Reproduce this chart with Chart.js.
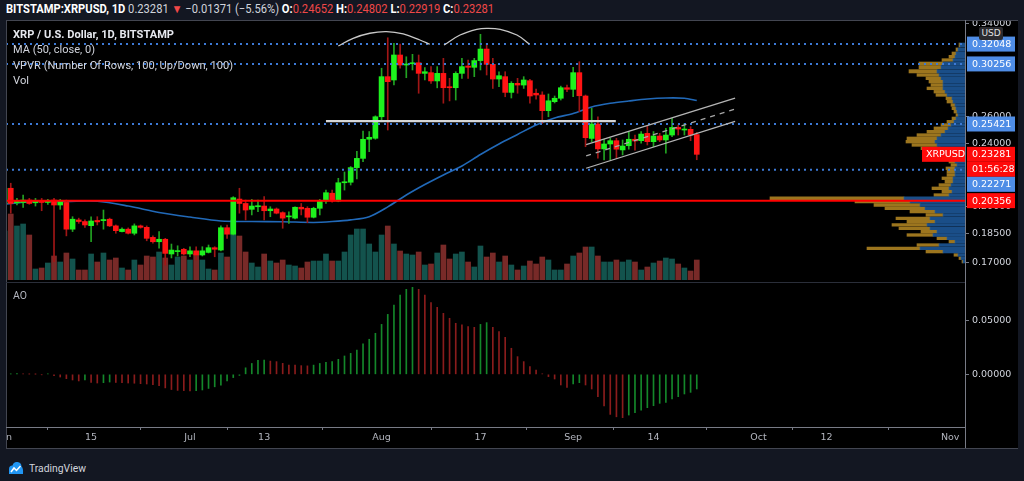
<!DOCTYPE html>
<html>
<head>
<meta charset="utf-8">
<title>XRPUSD 1D</title>
<script src="https://cdn.jsdelivr.net/npm/chart.js@4.4.1/dist/chart.umd.min.js"></script>
<style>
  html, body { margin: 0; padding: 0; width: 1024px; height: 481px; overflow: hidden; background: #131722; font-family: Roboto, "Open Sans", sans-serif; }
  .abs { position: absolute; }
  #panel { left: 6px; top: 20px; width: 1012px; height: 428px; background: #000; }
  #pwrap { left: 6px; top: 20px; width: 1012px; height: 262px; overflow: hidden; }
  #pwrap canvas { position: absolute; left: -20px; top: -20px; }
  #awrap { left: 6px; top: 282px; width: 1012px; height: 166px; overflow: hidden; }
  #awrap canvas { position: absolute; left: -20px; top: -19px; }
  .ln { position: absolute; z-index: 5; }
  .txt { position: absolute; white-space: nowrap; line-height: 1; transform-origin: 0 50%; z-index: 6; color: #d1d4dc; }
  #hdr { left: 6px; top: 3px; font-size: 12px; color: #d1d4dc; }
  #hdr b { color: #fff; font-weight: 700; }
  #hdr .r { color: #f04848; }
  .leg { left: 13px; font-size: 10.5px; }
  #usd { left: 979px; top: 27px; width: 24px; height: 13px; background: #2a2a2e; border-radius: 2px; color: #e0e0e0; font: 9px "DejaVu Sans", sans-serif; line-height: 13px; text-align: center; z-index: 7; }
  #logo { left: 8px; top: 461px; z-index: 6; }
</style>
</head>
<body>
<div id="panel" class="abs"></div>
<div id="pwrap" class="abs">
  <canvas id="vp" width="1032" height="300"></canvas>
  <canvas id="price" width="1032" height="300"></canvas>
</div>
<div id="awrap" class="abs">
  <canvas id="ao" width="1032" height="185"></canvas>
</div>

<div class="ln" style="left:6px;top:20px;width:1012px;height:1px;background:#434651"></div>
<div class="ln" style="left:6px;top:20px;width:1px;height:428px;background:#434651"></div>
<div class="ln" style="left:965px;top:20px;width:1px;height:428px;background:#787b86"></div>
<div class="ln" style="left:6px;top:282px;width:959px;height:1px;background:#2a2e39"></div>
<div class="ln" style="left:6px;top:427px;width:959px;height:1px;background:#787b86"></div>
<div class="ln" style="left:6px;top:448px;width:1012px;height:1px;background:#434651"></div>

<div id="hdr" class="txt"><b>BITSTAMP:XRPUSD, 1D</b> 0.23281 <span class="r">▼</span> −0.01371 (−5.56%) <b>O:</b><span class="r">0.24652</span> <b>H:</b><span class="r">0.24802</span> <b>L:</b><span class="r">0.22919</span> <b>C:</b><span class="r">0.23281</span></div>
<div id="leg1" class="txt leg" style="top:29.5px;font-weight:700;color:#e6e8ee">XRP / U.S. Dollar, 1D, BITSTAMP</div>
<div id="leg2" class="txt leg" style="top:45px">MA (50, close, 0)</div>
<div id="leg3" class="txt leg" style="top:60.5px">VPVR (Number Of Rows, 100, Up/Down, 100)</div>
<div id="leg4" class="txt leg" style="top:76px">Vol</div>
<div id="aolbl" class="txt leg" style="top:290.5px;color:#b2b5be">AO</div>
<div id="usd" class="abs">USD</div>
<svg id="logo" class="abs" width="16" height="14" viewBox="0 0 16 14">
  <path d="M1 13 L1 8 Q1 4.5 4.5 4.5 Q5.5 0.5 9.5 1 Q13.5 1.5 13.5 5.5 Q15.5 7 15 13 Z" fill="#2196f3"/>
  <polyline points="3,11 6,7 8.5,9.5 12.5,5" stroke="#fff" stroke-width="1.5" fill="none"/>
</svg>
<div id="tvtext" class="txt" style="left:29px;top:462.5px;font-size:11.5px;color:#d1d4dc">TradingView</div>

<script>
// ---- daily candles, BITSTAMP XRPUSD, day index 0 = 2020-06-01 ----
var startDate = "2020-06-01";

var opens = [
  0.2019, 0.2110, 0.2023, 0.2025, 0.2039, 0.2023, 0.2033, 0.2025, 0.2039, 0.2010,
  0.2025, 0.1874, 0.1925, 0.1916, 0.1893, 0.1922, 0.1921, 0.1929, 0.1892, 0.1861,
  0.1874, 0.1852, 0.1892, 0.1884, 0.1830, 0.1807, 0.1820, 0.1744, 0.1756, 0.1768,
  0.1744, 0.1760, 0.1739, 0.1752, 0.1776, 0.1764, 0.1882, 0.1847, 0.2045, 0.2019,
  0.1985, 0.2000, 0.2004, 0.1977, 0.1987, 0.1966, 0.1942, 0.1935, 0.1997, 0.1991,
  0.1940, 0.1991, 0.2033, 0.2080, 0.2033, 0.2144, 0.2147, 0.2240, 0.2301, 0.2432,
  0.2439, 0.2596, 0.2916, 0.2888, 0.3105, 0.3016, 0.3027, 0.3036, 0.2944, 0.2950,
  0.2880, 0.2944, 0.2832, 0.2824, 0.2944, 0.3007, 0.2996, 0.3055, 0.3159, 0.3022,
  0.2896, 0.2916, 0.2786, 0.2860, 0.2846, 0.2882, 0.2779, 0.2765, 0.2642, 0.2712,
  0.2739, 0.2824, 0.2811, 0.2950, 0.2757, 0.2438, 0.2542, 0.2365, 0.2399, 0.2422,
  0.2358, 0.2387, 0.2432, 0.2422, 0.2474, 0.2415, 0.2455, 0.2427, 0.2462, 0.2517,
  0.2498, 0.2503, 0.24652
];
var highs = [
  0.2124, 0.2141, 0.2049, 0.2069, 0.2049, 0.2049, 0.2049, 0.2043, 0.2049, 0.2043,
  0.2039, 0.1943, 0.1935, 0.1925, 0.1943, 0.1943, 0.1981, 0.1935, 0.1897, 0.1881,
  0.1881, 0.1903, 0.1897, 0.1892, 0.1838, 0.1861, 0.1825, 0.1795, 0.1786, 0.1773,
  0.1781, 0.1781, 0.1781, 0.1790, 0.1781, 0.1892, 0.1897, 0.2059, 0.2110, 0.2039,
  0.2043, 0.2039, 0.2059, 0.2000, 0.1993, 0.1971, 0.1971, 0.2000, 0.2019, 0.2000,
  0.1997, 0.2043, 0.2099, 0.2099, 0.2172, 0.2212, 0.2247, 0.2348, 0.2491, 0.2487,
  0.2603, 0.2988, 0.3264, 0.3212, 0.3205, 0.3089, 0.3111, 0.3105, 0.2993, 0.3002,
  0.3002, 0.3075, 0.2902, 0.2958, 0.3075, 0.3060, 0.3075, 0.3297, 0.3212, 0.3075,
  0.2958, 0.2958, 0.2874, 0.2902, 0.2916, 0.2893, 0.2812, 0.2791, 0.2773, 0.2757,
  0.2837, 0.2846, 0.2995, 0.3045, 0.2765, 0.2660, 0.2596, 0.2432, 0.2439, 0.2439,
  0.2427, 0.2487, 0.2462, 0.2487, 0.2527, 0.2487, 0.2474, 0.2510, 0.2584, 0.2535,
  0.2547, 0.2522, 0.24802
];
var lows = [
  0.2010, 0.1963, 0.2010, 0.1996, 0.2014, 0.2004, 0.1977, 0.2014, 0.1706, 0.1985,
  0.1838, 0.1861, 0.1906, 0.1884, 0.1807, 0.1897, 0.1874, 0.1888, 0.1852, 0.1859,
  0.1848, 0.1843, 0.1879, 0.1812, 0.1800, 0.1773, 0.1689, 0.1724, 0.1734, 0.1739,
  0.1730, 0.1714, 0.1734, 0.1749, 0.1730, 0.1759, 0.1825, 0.1843, 0.1963, 0.1925,
  0.1953, 0.1971, 0.1925, 0.1943, 0.1959, 0.1879, 0.1906, 0.1931, 0.1953, 0.1910,
  0.1936, 0.1953, 0.2019, 0.2027, 0.2029, 0.2099, 0.2130, 0.2168, 0.2279, 0.2346,
  0.2432, 0.2559, 0.2498, 0.2846, 0.2988, 0.2907, 0.2973, 0.2779, 0.2888, 0.2860,
  0.2823, 0.2700, 0.2718, 0.2725, 0.2902, 0.2902, 0.2916, 0.2973, 0.2930, 0.2818,
  0.2832, 0.2751, 0.2741, 0.2779, 0.2818, 0.2700, 0.2731, 0.2547, 0.2596, 0.2702,
  0.2725, 0.2791, 0.2751, 0.2634, 0.2380, 0.2415, 0.2302, 0.2290, 0.2290, 0.2302,
  0.2324, 0.2363, 0.2356, 0.2404, 0.2392, 0.2380, 0.2415, 0.2336, 0.2450, 0.2462,
  0.2462, 0.2422, 0.22919
];
var closes = [
  0.2110, 0.2019, 0.2035, 0.2039, 0.2019, 0.2035, 0.2025, 0.2035, 0.2010, 0.2029,
  0.1874, 0.1929, 0.1916, 0.1897, 0.1919, 0.1914, 0.1927, 0.1892, 0.1866, 0.1874,
  0.1852, 0.1892, 0.1884, 0.1825, 0.1807, 0.1820, 0.1747, 0.1764, 0.1761, 0.1744,
  0.1760, 0.1739, 0.1760, 0.1776, 0.1768, 0.1882, 0.1847, 0.2053, 0.2019, 0.1981,
  0.2004, 0.2006, 0.1977, 0.1987, 0.1963, 0.1935, 0.1946, 0.1997, 0.1987, 0.1940,
  0.1991, 0.2033, 0.2083, 0.2033, 0.2144, 0.2150, 0.2240, 0.2301, 0.2432, 0.2446,
  0.2596, 0.2916, 0.2874, 0.3105, 0.3016, 0.3025, 0.3036, 0.2944, 0.2958, 0.2880,
  0.2944, 0.2824, 0.2824, 0.2944, 0.3002, 0.2996, 0.3055, 0.3159, 0.3022, 0.2896,
  0.2924, 0.2786, 0.2860, 0.2846, 0.2888, 0.2757, 0.2765, 0.2642, 0.2719, 0.2739,
  0.2824, 0.2811, 0.2950, 0.2759, 0.2443, 0.2542, 0.2365, 0.2399, 0.2422, 0.2363,
  0.2385, 0.2432, 0.2420, 0.2469, 0.2415, 0.2455, 0.2427, 0.2462, 0.2517, 0.2505,
  0.2505, 0.2462, 0.23281
];
// volume, millions of XRP
var volumes = [
  24.5, 33, 27, 28, 22.5, 5.5, 6, 8.5, 12, 9,
  13.5, 10.5, 5, 5, 13, 9, 13.5, 10, 11, 6,
  5, 10, 7.5, 12, 11.5, 14, 11, 7.5, 11.5, 12,
  10, 13, 10, 5.5, 5, 13.5, 11.5, 30, 22, 14,
  8.5, 6.5, 13, 9.5, 8.5, 10, 7.5, 7, 6, 9,
  9.5, 9.5, 13, 9.5, 9.5, 14, 22.5, 25.5, 25.5, 18,
  14, 22.5, 27, 18, 14.5, 13, 12.5, 14, 7.5, 8,
  13.5, 17.5, 10.5, 13, 14, 9, 6.5, 17, 11.5, 13.5,
  9, 12, 7.5, 5, 7, 9.5, 8, 11.5, 10, 5,
  5, 8, 12, 13.5, 16.5, 16.5, 12, 9, 9, 10,
  9, 10, 9, 5, 6.5, 8.5, 9.5, 11, 10.5, 8,
  6, 4.5, 10
];
// Awesome Oscillator
var aoValues = [
  0.0002, 0.0003, 0.0006, 0.0003, 0.0002, 0.0001, -0.0003, 0.0003, -0.0012, -0.0025,
  -0.0040, -0.0052, -0.0061, -0.0052, -0.0074, -0.0080, -0.0077, -0.0071, -0.0075, -0.0077,
  -0.0080, -0.0082, -0.0086, -0.0089, -0.0095, -0.0105, -0.0125, -0.0140, -0.0148, -0.0150,
  -0.0152, -0.0150, -0.0144, -0.0130, -0.0115, -0.0100, -0.0060, -0.0030, -0.0010, 0.0060,
  0.0100, 0.0130, 0.0132, 0.0122, 0.0117, 0.0101, 0.0086, 0.0085, 0.0080, 0.0078,
  0.0085, 0.0100, 0.0110, 0.0117, 0.0138, 0.0169, 0.0193, 0.0224, 0.0280, 0.0323,
  0.0378, 0.0460, 0.0552, 0.0638, 0.0730, 0.0783, 0.0801, 0.0783, 0.0730, 0.0660,
  0.0617, 0.0562, 0.0516, 0.0470, 0.0455, 0.0439, 0.0433, 0.0460, 0.0476, 0.0433,
  0.0393, 0.0341, 0.0240, 0.0163, 0.0117, 0.0071, 0.0040, 0.0004, -0.0021, -0.0043,
  -0.0098, -0.0120, -0.0089, -0.0077, -0.0098, -0.0135, -0.0206, -0.0292, -0.0369, -0.0391,
  -0.0399, -0.0375, -0.0353, -0.0329, -0.0307, -0.0289, -0.0267, -0.0258, -0.0227, -0.0206,
  -0.0181, -0.0166, -0.0135
];
// MA(50, close)
var maDays = [0, 5, 10, 15, 20, 25, 30, 35, 40, 45, 50, 53, 56, 59, 62, 65, 68, 71, 74, 77, 80, 83, 86, 89, 92, 95, 98, 101, 104, 107, 110, 112];
var maValues = [0.2015, 0.2031, 0.2031, 0.2032, 0.2004, 0.1967, 0.1941, 0.1919, 0.1916, 0.1915, 0.1911, 0.1916, 0.1925, 0.1943, 0.1999, 0.2069, 0.2133, 0.2193, 0.2251, 0.2327, 0.2399, 0.2466, 0.2535, 0.2587, 0.2621, 0.2671, 0.2699, 0.2717, 0.2733, 0.2741, 0.2739, 0.2721];

// Volume profile rows (VPVR): price, up volume, down volume
var vpPrices = [0.3196, 0.3150, 0.3120, 0.3090, 0.3060, 0.3031, 0.3001, 0.2958, 0.2930, 0.2902, 0.2874, 0.2846, 0.2819, 0.2791, 0.2765, 0.2739, 0.2712, 0.2686, 0.2661, 0.2634, 0.2609, 0.2584, 0.2559, 0.2535, 0.2511, 0.2486, 0.2462, 0.2439, 0.2415, 0.2392, 0.2369, 0.2346, 0.2324, 0.2301, 0.2279, 0.2257, 0.2236, 0.2214, 0.2193, 0.2172, 0.2151, 0.2130, 0.2110, 0.2089, 0.2069, 0.2050, 0.2030, 0.2010, 0.1991, 0.1972, 0.1953, 0.1934, 0.1915, 0.1897, 0.1879, 0.1860, 0.1843, 0.1825, 0.1807, 0.1790, 0.1773, 0.1756, 0.1739, 0.1723, 0.1706];
var vpUp = [2.5, 3.5, 4.5, 5, 6, 11, 12, 14, 13, 12, 11, 11, 11, 10, 9, 6.5, 6, 5, 4.5, 4, 3.5, 4.5, 5.5, 7, 8.5, 10, 12, 14, 15, 14, 12.5, 9, 7.5, 6, 5, 4, 5, 5, 5, 6, 6, 7, 8, 6.5, 8, 30.5, 27.5, 22.5, 20, 15, 11, 17.5, 15, 19, 17.5, 14, 16, 9, 5, 13, 22.5, 11, 3.5, 2, 1];
var vpDown = [0.5, 1, 2, 3, 5.5, 12, 11, 14, 11, 7.5, 7, 6, 8, 5.5, 5.5, 3, 3, 2, 2, 1.5, 1, 2, 3.5, 5, 7, 9, 12, 15, 14.5, 12.5, 9.5, 6, 5, 4, 3, 3, 4.5, 4, 4, 5.5, 4, 6, 8.5, 5, 7.5, 67, 27.5, 23, 20, 12.5, 8.5, 17, 14, 17.5, 15.5, 8, 13, 5, 3, 11, 26.5, 8.5, 2, 1, 0.5];

// drawings: horizontal levels, neckline, double-top arcs, channel
var blueLevels = [0.32048, 0.30256, 0.25421, 0.22271];
var redLevel = 0.20356;
var necklineDays = [52.0, 98.9];
var necklinePrice = 0.2563;
var arc1Days = [54.0, 56.4, 59.1, 61.8, 64.5, 67.2, 68.8];
var arc1Prices = [0.3187, 0.3259, 0.3307, 0.3322, 0.3300, 0.3243, 0.3203];
var arc2Days = [71.1, 73.7, 76.4, 78.0, 80.2, 82.9, 84.9];
var arc2Prices = [0.3196, 0.3290, 0.3345, 0.3355, 0.3345, 0.3290, 0.3205];
var channelDays = [94.1, 118.2];
var channelUpper = [0.2395, 0.2740];
var channelMid = [0.2317, 0.2654];
var channelLower = [0.2236, 0.2561];

// axis ticks
var priceTicks = [0.17, 0.185, 0.20, 0.24, 0.26, 0.34];
var aoTicks = [0, 0.05];
var timeTickDates = ["2020-06-01", "2020-06-15", "2020-07-01", "2020-07-13", "2020-08-01", "2020-08-17", "2020-09-01", "2020-09-14", "2020-10-01", "2020-10-12", "2020-11-01"];
var timeTickLabels = ["Jun", "15", "Jul", "13", "Aug", "17", "Sep", "14", "Oct", "12", "Nov"];

// price scale tags on the right
var priceTags = [
    { value: 0.32048, color: "#4f8de6" },
    { value: 0.30256, color: "#4f8de6" },
    { value: 0.25421, color: "#4f8de6" },
    { value: 0.23281, color: "#ff0a0a", name: "XRPUSD", timer: "01:56:28" },
    { value: 0.22271, color: "#4f8de6" },
    { value: 0.20356, color: "#ff0a0a" },
];

// visible window
var X_MIN = 0.23, X_MAX = 155.4;
var P_MIN = 0.16173, P_MAX = 0.34365;
var AO_MIN = -0.0485, AO_MAX = 0.0841;
var VOL_MAX = 130, VP_MAX = 479.5;

function dayIndex(d) {
    return Math.round((Date.parse(d) - Date.parse(startDate)) / 864e5);
}
var timeTickDays = timeTickDates.map(dayIndex);

var upBody = "#1ef21e", downBody = "#ff1414";
var upWick = "#22a322", downWick = "#a01616";
var axisFont = { family: "'DejaVu Sans', sans-serif", size: 9.5 };

function isUp(i) { return closes[i] >= opens[i]; }

function lineSet(points, color, width, order, extra) {
    var ds = {
        type: "line",
        data: points,
        borderColor: color,
        borderWidth: width,
        pointRadius: 0,
        fill: false,
        order: order,
    };
    return Object.assign(ds, extra || {});
}

var datasets = [];
// channel
datasets.push(lineSet(channelDays.map(function (d, k) { return { x: d, y: channelUpper[k] }; }), "#b4b4b4", 1.3, 1));
datasets.push(lineSet(channelDays.map(function (d, k) { return { x: d, y: channelMid[k] }; }), "#a8a8a8", 1.3, 1, { borderDash: [5, 5] }));
datasets.push(lineSet(channelDays.map(function (d, k) { return { x: d, y: channelLower[k] }; }), "#b4b4b4", 1.3, 1));
// arcs
datasets.push(lineSet(arc1Days.map(function (d, k) { return { x: d, y: arc1Prices[k] }; }), "#c8c8c8", 1.3, 1, { tension: 0.4 }));
datasets.push(lineSet(arc2Days.map(function (d, k) { return { x: d, y: arc2Prices[k] }; }), "#c8c8c8", 1.3, 1, { tension: 0.4 }));
// neckline
datasets.push(lineSet(necklineDays.map(function (d) { return { x: d, y: necklinePrice }; }), "#d6d6d6", 2.2, 1));
// red level
datasets.push(lineSet([{ x: X_MIN, y: redLevel }, { x: X_MAX, y: redLevel }], "#ff0000", 2, 2));
// blue dotted levels
blueLevels.forEach(function (v) {
    datasets.push(lineSet([{ x: X_MIN, y: v }, { x: X_MAX, y: v }], "#3d7ad6", 2, 3, { borderDash: [2, 4] }));
});
// candle bodies
datasets.push({
    type: "bar",
    data: opens.map(function (o, i) { return { x: i, y: [o, closes[i]] }; }),
    backgroundColor: opens.map(function (o, i) { return isUp(i) ? upBody : downBody; }),
    barThickness: 5,
    minBarLength: 1,
    grouped: false,
    order: 4,
});
// wicks
datasets.push({
    type: "bar",
    data: lows.map(function (l, i) { return { x: i, y: [l, highs[i]] }; }),
    backgroundColor: opens.map(function (o, i) { return isUp(i) ? upWick : downWick; }),
    barThickness: 1,
    grouped: false,
    order: 5,
});
// MA 50
datasets.push(lineSet(maDays.map(function (d, k) { return { x: d, y: maValues[k] }; }), "#2169b8", 1.6, 6, { tension: 0.3 }));
// volume
datasets.push({
    type: "bar",
    yAxisID: "yv",
    data: volumes.map(function (v, i) { return { x: i, y: v }; }),
    backgroundColor: opens.map(function (o, i) { return isUp(i) ? "rgba(38,166,154,0.5)" : "rgba(239,83,80,0.5)"; }),
    barThickness: 5,
    grouped: false,
    order: 7,
});

var tagPlugin = {
    id: "priceTags",
    afterDraw: function (chart) {
        var ctx = chart.ctx, area = chart.chartArea, y = chart.scales.y;
        var h = 15, w = 48, x0 = area.right + 2;
        var lastBottom = -1e9;
        ctx.save();
        ctx.font = "9.5px 'DejaVu Sans', sans-serif";
        ctx.textBaseline = "middle";
        priceTags.forEach(function (t) {
            var cy = y.getPixelForValue(t.value);
            if (cy - h / 2 < lastBottom) cy = lastBottom + h / 2;
            ctx.fillStyle = t.color;
            ctx.fillRect(x0, cy - h / 2, w, h);
            ctx.fillStyle = "#ffffff";
            ctx.fillText(t.value.toFixed(5), x0 + 5, cy + 0.5);
            lastBottom = cy + h / 2;
            if (t.name) {
                ctx.fillStyle = t.color;
                ctx.fillRect(area.right - 43, cy - h / 2, 43, h);
                ctx.fillStyle = "#ffffff";
                ctx.fillText(t.name, area.right - 39, cy + 0.5);
            }
            if (t.timer) {
                ctx.fillStyle = t.color;
                ctx.fillRect(x0, lastBottom, w, h);
                ctx.fillStyle = "#ffffff";
                ctx.fillText(t.timer, x0 + 5, lastBottom + h / 2 + 0.5);
                lastBottom += h;
            }
        });
        ctx.restore();
    },
};

var common = {
    responsive: false,
    animation: false,
    events: [],
    plugins: { legend: { display: false }, tooltip: { enabled: false } },
};

// Volume profile (behind the price chart)
new Chart(document.getElementById("vp"), {
    type: "bar",
    data: {
        datasets: [
            {
                data: vpPrices.map(function (p, k) { return { x: vpUp[k], y: p }; }),
                backgroundColor: "rgba(30,92,160,0.85)",
            },
            {
                data: vpPrices.map(function (p, k) { return { x: vpDown[k], y: p }; }),
                backgroundColor: "rgba(200,150,38,0.78)",
            },
        ],
    },
    options: Object.assign({}, common, {
        indexAxis: "y",
        layout: { padding: { left: 20, top: 20, bottom: 20, right: 53 } },
        datasets: { bar: { barThickness: "flex", barPercentage: 0.8, categoryPercentage: 1 } },
        scales: {
            x: { type: "linear", reverse: true, min: 0, max: VP_MAX, stacked: true, display: false },
            y: { type: "logarithmic", min: P_MIN, max: P_MAX, stacked: true, display: false, offset: false },
        },
    }),
});

// Price pane
new Chart(document.getElementById("price"), {
    type: "bar",
    data: { datasets: datasets },
    plugins: [tagPlugin],
    options: Object.assign({}, common, {
        layout: { padding: { left: 20, top: 20, bottom: 20, right: 0 } },
        scales: {
            x: { type: "linear", min: X_MIN, max: X_MAX, offset: false, display: false },
            y: {
                type: "logarithmic",
                position: "right",
                min: P_MIN,
                max: P_MAX,
                grid: { drawOnChartArea: false, drawTicks: true, tickLength: 4, color: "#787b86" },
                border: { display: false },
                afterBuildTicks: function (s) { s.ticks = priceTicks.map(function (v) { return { value: v }; }); },
                afterFit: function (s) { s.width = 53; },
                ticks: {
                    autoSkip: false,
                    padding: 3,
                    color: "#d1d4dc",
                    font: axisFont,
                    callback: function (v) { return Number(v).toFixed(5); },
                },
            },
            yv: { type: "linear", display: false, min: 0, max: VOL_MAX },
        },
    }),
});

// AO pane with the time axis
new Chart(document.getElementById("ao"), {
    type: "bar",
    data: {
        datasets: [{
            data: aoValues.map(function (v, i) { return { x: i, y: v }; }),
            backgroundColor: aoValues.map(function (v, i) {
                return i === 0 || v >= aoValues[i - 1] ? "#14872a" : "#8a1c1c";
            }),
            barThickness: 1,
            grouped: false,
        }],
    },
    options: Object.assign({}, common, {
        layout: { padding: { left: 20, top: 20, bottom: 0, right: 0 } },
        scales: {
            x: {
                type: "linear",
                min: X_MIN,
                max: X_MAX,
                offset: false,
                grid: { drawOnChartArea: false, drawTicks: true, tickLength: 3, color: "#787b86" },
                border: { display: false },
                afterBuildTicks: function (s) { s.ticks = timeTickDays.map(function (v) { return { value: v }; }); },
                afterFit: function (s) { s.height = 21; },
                ticks: {
                    autoSkip: false,
                    maxRotation: 0,
                    padding: 2,
                    color: "#b2b5be",
                    font: axisFont,
                    callback: function (v) { return timeTickLabels[timeTickDays.indexOf(v)]; },
                },
            },
            y: {
                position: "right",
                min: AO_MIN,
                max: AO_MAX,
                grid: { drawOnChartArea: false, drawTicks: true, tickLength: 4, color: "#787b86" },
                border: { display: false },
                afterBuildTicks: function (s) { s.ticks = aoTicks.map(function (v) { return { value: v }; }); },
                afterFit: function (s) { s.width = 53; },
                ticks: {
                    autoSkip: false,
                    padding: 3,
                    color: "#d1d4dc",
                    font: axisFont,
                    callback: function (v) { return Number(v).toFixed(5); },
                },
            },
        },
    }),
});

// squeeze the html text to the widths seen in the screenshot
function fitText(id, width) {
    var el = document.getElementById(id);
    var w = el.getBoundingClientRect().width;
    el.style.transform = "scaleX(" + (width / w) + ")";
}
fitText("hdr", 488);
fitText("leg1", 161);
fitText("leg2", 82);
fitText("leg3", 220);
fitText("leg4", 16);
fitText("aolbl", 14);
fitText("tvtext", 57);
</script>
</body>
</html>
